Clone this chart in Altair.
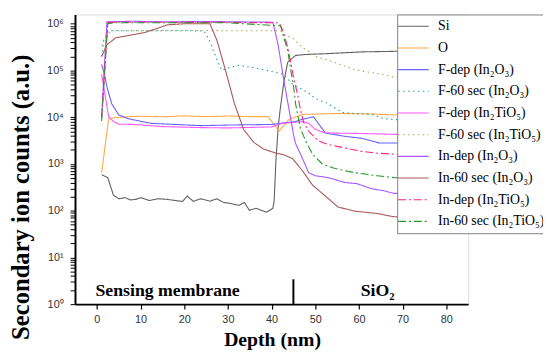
import altair as alt
import pandas as pd

# ---------------- data ----------------
series_names = [
    "Si", "O",
    "F-dep (In₂O₃)", "F-60 sec (In₂O₃)",
    "F-dep (In₂TiO₅)", "F-60 sec (In₂TiO₅)",
    "In-dep (In₂O₃)", "In-60 sec (In₂O₃)",
    "In-dep (In₂TiO₅)", "In-60 sec (In₂TiO₅)",
]
colors = ["#606060", "#FFA848", "#6262FF", "#20A0A0", "#FF55FF",
          "#A8A850", "#A855FF", "#A85858", "#FF2080", "#229922"]
dashes = [[1, 0], [1, 0], [1, 0], [1.5, 3.5], [1, 0],
          [1.5, 3.5], [1, 0], [1, 0], [8, 3, 2, 3], [8, 3, 2, 3]]
widths = [1.1, 1.1, 1.1, 1.6, 1.1, 1.6, 1.1, 1.1, 1.8, 1.8]

si_depth = [1.1, 2.5, 3.8, 5.0, 6.5, 7.7, 9.0, 10.1, 12, 14, 16, 18, 19.6, 20.7,
            22.1, 23.7, 25.9, 27.5, 29, 30.2, 32.5, 33.8, 34.9, 36.5, 38.8, 40.3,
            40.6, 41.0, 41.5, 41.9, 42.8, 43.7, 45.5, 47.8, 53, 60.6, 68, 84]
si_counts = [590, 510, 215, 180, 190, 170, 175, 190, 165, 180, 175, 165, 158, 205,
             158, 180, 160, 180, 150, 145, 130, 150, 102, 112, 93, 112,
             165, 1200, 5800, 13000, 56000, 150000, 210000, 220000, 230000, 250000, 257000, 263000]

o_depth = [1.1, 2.7, 5, 10, 15, 20, 25, 30, 35, 39.2, 41.7, 44, 47.1, 55, 62, 68, 84]
o_counts = [650, 9300, 10000, 10500, 10200, 10700, 10300, 10600, 10300, 10300,
            5000, 9000, 11500, 12000, 11800, 11200, 11000]

fdep_o_depth = [1.1, 1.8, 2.3, 3.4, 5.0, 7.2, 12.4, 23.7, 30, 40, 45.5, 47, 49.6,
                52.3, 56.8, 60.6, 64.7, 68, 84]
fdep_o_counts = [135000, 79000, 45000, 19500, 11200, 9300, 7400, 6600, 6800, 7000,
                 8100, 9000, 10200, 4600, 3900, 3550, 2800, 2800, 2700]

f60_o_depth = [1.1, 1.6, 2.7, 10, 20, 24.5, 25.7, 27.5, 28.6, 30.4, 32.5, 36.5, 41,
               42.8, 44.8, 47.1, 48.5, 50, 52.3, 55.2, 56.3, 59, 62.9, 65.8, 68, 84]
f60_o_counts = [200000, 440000, 710000, 710000, 710000, 700000, 460000, 170000,
                100000, 117000, 129000, 112000, 91000, 83000, 51000, 39000, 33000,
                25000, 21000, 14500, 12600, 12000, 11500, 9300, 8900, 8500]

fdep_t_depth = [1.1, 2.7, 3.8, 5, 8.8, 15, 23.7, 30, 40, 42.2, 47.1, 48.5, 50, 52.3,
                60, 68, 84]
fdep_t_counts = [83000, 10200, 8100, 7100, 7000, 6300, 6000, 5900, 6200, 7300,
                 8100, 7400, 5500, 4600, 4500, 4300, 4200]

f60_t_depth = [1.1, 1.6, 3.4, 10, 20, 30, 40.6, 42.1, 43.3, 44.8, 47.1, 48.2, 50,
               53, 55.7, 58.6, 62.4, 65.4, 68, 84]
f60_t_counts = [340000, 470000, 710000, 710000, 720000, 710000, 710000, 700000,
                550000, 500000, 310000, 270000, 200000, 166000, 135000, 107000,
                91000, 83000, 72000, 60000]

indep_o_depth = [1.1, 2.3, 8, 16, 24, 32, 40.3, 41.5, 42.8, 43.9, 45.1, 45.5, 47.1,
                 48.5, 50, 53, 56.8, 59.5, 62.9, 65.4, 68, 84]
indep_o_counts = [10000, 1100000, 1130000, 1100000, 1120000, 1100000, 1080000,
                  355000, 62000, 16600, 3900, 2750, 1290, 650, 560, 510, 400, 380,
                  295, 270, 235, 220]

in60_o_depth = [1.1, 2.3, 4.3, 11, 16.2, 20, 25.9, 27.5, 29.7, 31.5, 33.6, 35.9,
                38.1, 41, 42.6, 44.8, 47.1, 49.4, 51.6, 55.2, 59, 64.2, 68, 84]
in60_o_counts = [200000, 355000, 500000, 650000, 950000, 1000000, 1000000, 440000,
                 83000, 19500, 5500, 2900, 2100, 1700, 1600, 1300, 710, 350, 235,
                 120, 98, 87, 74, 70]

indep_t_depth = [1.1, 2.5, 10, 20, 30, 41.7, 42.6, 43.7, 44.4, 45.1, 46, 46.6, 47.3,
                 48.5, 50.7, 53, 56.8, 60.6, 64.2, 68, 84]
indep_t_counts = [10000, 1070000, 1080000, 1070000, 1070000, 1050000, 710000,
                  310000, 148000, 66000, 29500, 14500, 8000, 5000, 3100, 2600,
                  2200, 1860, 1700, 1620, 1550]

in60_t_depth = [1.1, 2.5, 3.8, 15, 30, 42.1, 42.8, 43.7, 44.4, 45.1, 45.5, 46.2,
                46.6, 47.8, 49.4, 51.6, 54.5, 59, 64.2, 68, 84]
in60_t_counts = [8300, 1000000, 1050000, 1050000, 1050000, 900000, 500000, 270000,
                 102000, 41000, 19500, 8900, 5800, 3100, 1620, 1000, 800, 650,
                 560, 510, 480]

series_depths = [si_depth, o_depth, fdep_o_depth, f60_o_depth, fdep_t_depth,
                 f60_t_depth, indep_o_depth, in60_o_depth, indep_t_depth, in60_t_depth]
series_counts = [si_counts, o_counts, fdep_o_counts, f60_o_counts, fdep_t_counts,
                 f60_t_counts, indep_o_counts, in60_o_counts, indep_t_counts, in60_t_counts]

region_labels = ["Sensing membrane", "SiO₂"]
region_depth = [16.2, 64.3]
region_counts = [1.95, 1.95]

divider_depth = [45]
divider_low = [1]
divider_high = [3.4]

y_tick_values = [m * 10 ** k for k in range(6) for m in range(1, 10)] + [10 ** 6]
x_tick_values = list(range(0, 85, 5))

# ---------------- tables ----------------
rows = []
for name, ds, cs in zip(series_names, series_depths, series_counts):
    for i, (d, c) in enumerate(zip(ds, cs)):
        rows.append({"series": name, "depth": d, "counts": c, "idx": i})
df = pd.DataFrame(rows)
df_text = pd.DataFrame({"label": region_labels, "depth": region_depth, "counts": region_counts})
df_div = pd.DataFrame({"depth": divider_depth, "lo": divider_low, "hi": divider_high})

serif = "Liberation Serif"
sans = "Liberation Sans"

x_scale = alt.Scale(domain=[-5, 85], nice=False, zero=False)
y_scale = alt.Scale(type="log", domain=[1, 1.58e6], nice=False)

sup_expr = ("abs(log(datum.value)/LN10 - round(log(datum.value)/LN10)) < 0.001 ? "
            "'10' + ['⁰','¹','²','³','⁴','⁵','⁶'][round(log(datum.value)/LN10)] : ''")

x_axis = alt.Axis(values=x_tick_values, labelExpr="datum.value % 10 === 0 ? datum.label : ''",
                  title="Depth (nm)", titleFont=serif, titleFontSize=20, titleFontWeight="bold",
                  titleX=200, titleY=36, titleBaseline="middle", titleAlign="center",
                  labelFont=sans, labelFontSize=11, labelColor="#333", labelPadding=5,
                  tickSize=5, tickColor="black", tickWidth=1.2,
                  domainColor="black", domainWidth=2, grid=False)
y_axis = alt.Axis(values=y_tick_values, labelExpr=sup_expr,
                  title="Secondary ion counts (a.u.)", titleFont=serif, titleFontSize=25,
                  titleFontWeight="bold", titleAngle=270, titleX=-55, titleY=185,
                  titleBaseline="middle", titleAlign="center",
                  labelFont=sans, labelFontSize=11, labelColor="#333", labelPadding=7,
                  tickSize=5, tickColor="black", tickWidth=1,
                  domainColor="black", domainWidth=2, grid=False)

legend = alt.Legend(title=None, orient="none", legendX=327, legendY=0,
                    fillColor="white", strokeColor="#808080", padding=5,
                    symbolType="M-7.75,0H7.75", symbolSize=16, symbolStrokeWidth=1.5,
                    symbolOffset=4.5, labelOffset=18, rowPadding=8,
                    labelFont=serif, labelFontSize=14, labelColor="black", labelLimit=400)

lines = alt.Chart(df).mark_line(clip=True).encode(
    x=alt.X("depth:Q", scale=x_scale, axis=x_axis),
    y=alt.Y("counts:Q", scale=y_scale, axis=y_axis),
    color=alt.Color("series:N", scale=alt.Scale(domain=series_names, range=colors),
                    sort=series_names, legend=legend),
    strokeDash=alt.StrokeDash("series:N", scale=alt.Scale(domain=series_names, range=dashes),
                              sort=series_names, legend=legend),
    strokeWidth=alt.StrokeWidth("series:N", scale=alt.Scale(domain=series_names, range=widths),
                                legend=None),
    order="idx:Q",
)

divider = alt.Chart(df_div).mark_rule(color="black", strokeWidth=2).encode(
    x="depth:Q", y="lo:Q", y2="hi:Q")

texts = alt.Chart(df_text).mark_text(font=serif, fontSize=18, fontWeight="bold",
                                     color="black", align="center", baseline="middle").encode(
    x="depth:Q", y="counts:Q", text="label:N")

chart = alt.layer(lines, divider, texts).properties(
    width=399, height=294,
    autosize=alt.AutoSizeParams(type="none"),
    padding={"left": 68, "top": 4, "right": 76, "bottom": 46},
).configure_view(stroke="black", strokeWidth=2).configure(background="white")

chart.save("out.html", embed_options={"renderer": "svg", "actions": False})
